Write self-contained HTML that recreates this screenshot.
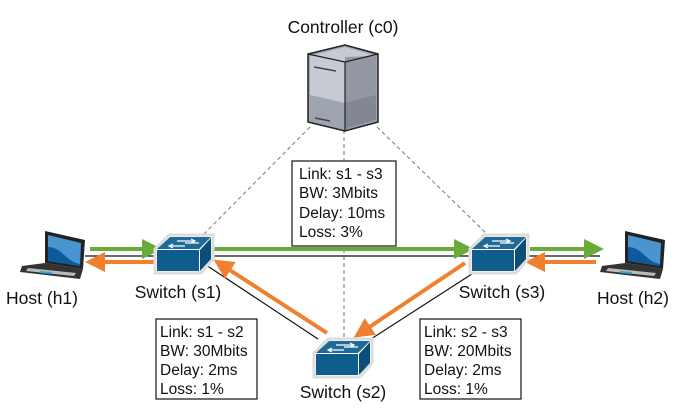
<!DOCTYPE html>
<html><head><meta charset="utf-8"><style>
html,body{margin:0;padding:0;background:#fff}
svg{display:block}
text{font-family:"Liberation Sans",Arial,sans-serif;fill:#111}
</style></head><body>
<svg width="687" height="415" viewBox="0 0 687 415" xmlns="http://www.w3.org/2000/svg">
<defs>
<g id="sw">
  <path d="M0,14 L14,0 L58,0 L58,24 L46,38 L0,38 Z" fill="#fff" stroke="#ddd" stroke-width="3"/>
  <path d="M2,14 L15,2 L56,2 L44,14 Z" fill="#1f6a96"/>
  <path d="M2,15 L44,15 L44,36 L2,36 Z" fill="#0e5d8c"/>
  <path d="M45,15 L56,3 L56,24 L45,36 Z" fill="#0b4f78"/>
  <path d="M22,6 L40,6 M36,4 L40,6 L36,8 M14,11 L30,11 M18,9 L14,11 L18,13 M30,8 L44,8" stroke="#fff" stroke-width="1.2" fill="none"/>
</g>
<g id="lap">
  <path d="M45,231 L85,240 L83,269 L45,263 Z" fill="#222"/>
  <path d="M48,235 L81,243 L80,266 L48,261 Z" fill="#4a95d0"/>
  <path d="M48,247 C62,247 66,262 80,264 L80,266 L48,261 Z" fill="#0d5a9c"/>
  <path d="M45,263 L83,269 L80,279 L20,272 L22,266 Z" fill="#333"/>
  <path d="M28,268 L76,273 L74,276 L26,271 Z" fill="#bbb"/>
  <path d="M40,271 L52,272 L51,274 L40,273 Z" fill="#2fa0e0"/>
</g>
<marker id="ag" markerWidth="5" markerHeight="5" refX="2.5" refY="2.5" orient="auto" markerUnits="strokeWidth"><path d="M0,0 L5,2.5 L0,5 Z" fill="#6aaa3a"/></marker>
<marker id="ao" markerWidth="5" markerHeight="5" refX="2.5" refY="2.5" orient="auto" markerUnits="strokeWidth"><path d="M0,0 L5,2.5 L0,5 Z" fill="#f07f30"/></marker>
</defs>

<g stroke="#777" stroke-width="1" stroke-dasharray="4,3" fill="none">
  <line x1="310" y1="127" x2="203" y2="235"/>
  <line x1="377" y1="127" x2="488" y2="235"/>
  <line x1="344" y1="130" x2="344" y2="337"/>
</g>

<g stroke="#111" stroke-width="1.2">
  <line x1="85" y1="256" x2="600" y2="256"/>
  <line x1="206" y1="265" x2="318" y2="339"/>
  <line x1="475" y1="272" x2="371" y2="339"/>
</g>

<rect x="292" y="161" width="104" height="85" fill="#fff" stroke="#111" stroke-width="1.2"/>
<rect x="156" y="319" width="101" height="80" fill="#fff" stroke="#111" stroke-width="1.2"/>
<rect x="420" y="319" width="101" height="80" fill="#fff" stroke="#111" stroke-width="1.2"/>
<g font-size="15.5">
<text x="299" y="179">Link: s1 - s3</text>
<text x="299" y="198">BW: 3Mbits</text>
<text x="299" y="218">Delay: 10ms</text>
<text x="299" y="237">Loss: 3%</text>
<text x="160" y="337">Link: s1 - s2</text>
<text x="160" y="356">BW: 30Mbits</text>
<text x="160" y="375">Delay: 2ms</text>
<text x="160" y="394">Loss: 1%</text>
<text x="424" y="337">Link: s2 - s3</text>
<text x="424" y="356">BW: 20Mbits</text>
<text x="424" y="375">Delay: 2ms</text>
<text x="424" y="394">Loss: 1%</text>
</g>

<g stroke="#6aaa3a" stroke-width="4" fill="none">
  <line x1="90" y1="249" x2="152" y2="249" marker-end="url(#ag)"/>
  <line x1="213" y1="249" x2="464" y2="249" marker-end="url(#ag)"/>
  <line x1="530" y1="249" x2="594" y2="249" marker-end="url(#ag)"/>
</g>
<g stroke="#f07f30" stroke-width="4" fill="none">
  <line x1="155" y1="262" x2="95" y2="262" marker-end="url(#ao)"/>
  <line x1="596" y1="262" x2="535" y2="262" marker-end="url(#ao)"/>
  <line x1="327" y1="333" x2="222" y2="265" marker-end="url(#ao)"/>
  <line x1="465" y1="263" x2="362" y2="332" marker-end="url(#ao)"/>
</g>

<use href="#sw" x="155" y="235"/>
<use href="#sw" x="470" y="235"/>
<use href="#sw" x="314" y="339"/>

<use href="#lap"/>
<use href="#lap" x="580"/>

<g>
  <path d="M308,54 L345,45 L378,54 L378,122 L345,131 L308,122 Z" fill="#9ea4b0" stroke="#222" stroke-width="1.5"/>
  <path d="M310,56 L345,47 L376,56 L376,95 L345,103 L310,95 Z" fill="#c6cad2"/>
  <path d="M345,57 L376,56 L376,120 L345,129 Z" fill="#6f7480" opacity="0.6"/>
  <path d="M308,54 L345,62 L378,54 M345,62 L345,131" stroke="#222" stroke-width="1.2" fill="none"/>
  <line x1="314" y1="67" x2="336" y2="71" stroke="#444" stroke-width="1.5"/>
  <line x1="315" y1="118" x2="330" y2="121" stroke="#444" stroke-width="1.5"/>
</g>

<g font-size="17.5" text-anchor="middle">
<text x="343" y="33">Controller (c0)</text>
<text x="178" y="298">Switch (s1)</text>
<text x="502" y="298">Switch (s3)</text>
<text x="343" y="398">Switch (s2)</text>
<text x="42" y="304">Host (h1)</text>
<text x="633" y="304">Host (h2)</text>
</g>
</svg>
</body></html>
